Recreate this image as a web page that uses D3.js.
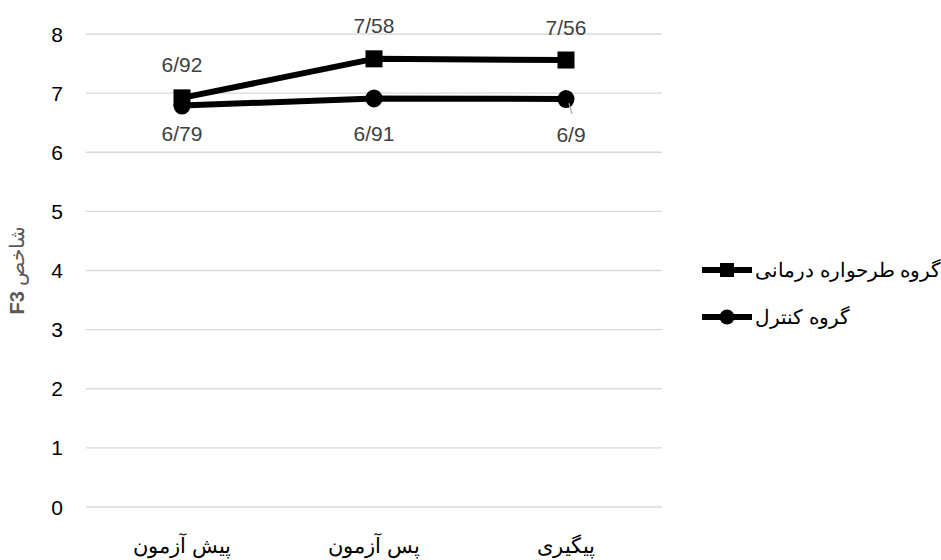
<!DOCTYPE html>
<meta charset="utf-8">
<style>
body, html {
  margin: 0;
  padding: 0;
  background: #fff;
}
text {
  font-family: "Liberation Sans", Arial, sans-serif;
}
</style>
<div id="chart"></div>
<script src="https://d3js.org/d3.v7.min.js"></script>
<script>
const categories = ["پیش آزمون", "پس آزمون", "پیگیری"]
const treatment = [6.92, 7.58, 7.56]
const control = [6.79, 6.91, 6.9]
const seriesNames = ["گروه طرحواره درمانی", "گروه کنترل"]
const yTicks = [0, 1, 2, 3, 4, 5, 6, 7, 8]

const width = 941, height = 560
const svg = d3.select("#chart").append("svg")
  .attr("width", width).attr("height", height)

const x = d3.scaleBand().domain(categories).range([86, 662])
const y = d3.scaleLinear().domain([0, 8]).range([507, 34])

// gridlines
svg.append("g").selectAll("line")
  .data(yTicks).enter().append("line")
  .attr("x1", 86).attr("x2", 662)
  .attr("y1", d => y(d)).attr("y2", d => y(d))
  .attr("stroke", "#d9d9d9").attr("stroke-width", 1.3)

// y tick labels
svg.append("g").selectAll("text")
  .data(yTicks).enter().append("text")
  .attr("x", 63).attr("y", d => y(d)).attr("dy", "0.36em")
  .attr("text-anchor", "end")
  .attr("font-size", 21).attr("fill", "#000")
  .text(d => d)

// category labels
svg.append("g").selectAll("text")
  .data(categories).enter().append("text")
  .attr("x", d => x(d) + x.bandwidth() / 2).attr("y", 553)
  .attr("text-anchor", "middle")
  .attr("font-size", 21).attr("fill", "#000")
  .text(d => d)

// y axis title
svg.append("text")
  .attr("transform", "translate(24,270) rotate(-90)")
  .attr("text-anchor", "middle")
  .attr("font-size", 20).attr("fill", "#595959")
  .attr("direction", "rtl")
  .html('شاخص <tspan font-weight="bold">F3</tspan>')

const cx = d => x(d) + x.bandwidth() / 2
const line = d3.line().x((d, i) => cx(categories[i])).y(d => y(d))

function drawSeries(vals, marker) {
  svg.append("path")
    .datum(vals)
    .attr("d", line)
    .attr("fill", "none").attr("stroke", "#000").attr("stroke-width", 6)
    .attr("stroke-linejoin", "round")
  const g = svg.append("g")
  vals.forEach((v, i) => {
    const px = cx(categories[i]), py = y(v)
    if (marker === "square") {
      g.append("rect").attr("x", px - 8.5).attr("y", py - 8.5)
        .attr("width", 17).attr("height", 17).attr("fill", "#000")
    } else {
      g.append("ellipse").attr("cx", px).attr("cy", py)
        .attr("rx", 8.5).attr("ry", 9).attr("fill", "#000")
    }
  })
}

drawSeries(control, "circle")
drawSeries(treatment, "square")

const fmt = v => String(v).replace(".", "/")

// data labels
const labelOffsets = {
  t: [[0, -33], [0, -33], [0, -33]],
  c: [[0, 28], [0, 35], [5, 35]]
}
function drawLabels(vals, offs) {
  vals.forEach((v, i) => {
    svg.append("text")
      .attr("x", cx(categories[i]) + offs[i][0])
      .attr("y", y(v) + offs[i][1])
      .attr("dy", "0.36em")
      .attr("text-anchor", "middle")
      .attr("font-size", 21).attr("fill", "#404040")
      .text(fmt(v))
  })
}
drawLabels(treatment, labelOffsets.t)
drawLabels(control, labelOffsets.c)

// leader line for last control label
svg.append("line")
  .attr("x1", cx(categories[2]) + 3).attr("y1", y(control[2]) + 4)
  .attr("x2", cx(categories[2]) + 6).attr("y2", y(control[2]) + 15)
  .attr("stroke", "#a6a6a6").attr("stroke-width", 1.2)

// legend
const legend = svg.append("g")
const legY = [270, 317]
seriesNames.forEach((name, i) => {
  const ly = legY[i]
  legend.append("line")
    .attr("x1", 702).attr("x2", 752).attr("y1", ly).attr("y2", ly)
    .attr("stroke", "#000").attr("stroke-width", 6)
  if (i === 0) {
    legend.append("rect").attr("x", 720).attr("y", ly - 7)
      .attr("width", 14).attr("height", 14).attr("fill", "#000")
  } else {
    legend.append("circle").attr("cx", 727).attr("cy", ly).attr("r", 7.5)
      .attr("fill", "#000")
  }
  legend.append("text")
    .attr("x", 755).attr("y", ly).attr("dy", "0.35em")
    .attr("font-size", 20).attr("fill", "#000")
    .attr("direction", "rtl").attr("text-anchor", "end")
    .text(name)
})
</script>
